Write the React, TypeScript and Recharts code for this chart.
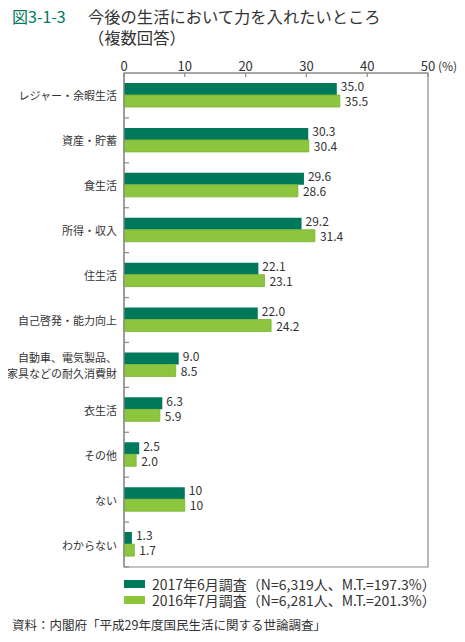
import { BarChart, Bar, XAxis, YAxis, ReferenceArea, LabelList } from "recharts";

const categories = [
  "レジャー・余暇生活",
  "資産・貯蓄",
  "食生活",
  "所得・収入",
  "住生活",
  "自己啓発・能力向上",
  "自動車、電気製品、\n家具などの耐久消費財",
  "衣生活",
  "その他",
  "ない",
  "わからない",
];
const values2017 = [35.0, 30.3, 29.6, 29.2, 22.1, 22.0, 9.0, 6.3, 2.5, 10, 1.3];
const values2016 = [35.5, 30.4, 28.6, 31.4, 23.1, 24.2, 8.5, 5.9, 2.0, 10, 1.7];
const xTicks = [0, 10, 20, 30, 40, 50];

const series2017 = "2017年6月調査（N=6,319人、M.T.=197.3%）";
const series2016 = "2016年7月調査（N=6,281人、M.T.=201.3%）";

const DARK = "#00785c";
const LIGHT = "#8cc63f";
const TEXT = "#333333";
const FRAME = "#8a8a8a";
const FONT = "'Noto Sans CJK JP', 'Noto Sans', sans-serif";

const data = categories.map((name, i) => ({
  name,
  y2017: values2017[i],
  y2016: values2016[i],
}));

const fmt = (v: any) => (v === 10 ? "10" : Number(v).toFixed(1));

function TopTick(props: any) {
  const { x, y, payload } = props;
  return (
    <g>
      <text x={x} y={y} textAnchor="middle" fontSize={13} fill={TEXT} fontFamily={FONT}>
        {payload.value}
      </text>
      {payload.value === 50 && (
        <text x={x + 10} y={y} textAnchor="start" fontSize={12} fill={TEXT} fontFamily={FONT}>
          (%)
        </text>
      )}
    </g>
  );
}

function CatTick(props: any) {
  const { x, y, payload } = props;
  const lines = String(payload.value).split("\n");
  const half = payload.offset ?? 0;
  return (
    <g>
      {lines.map((l, i) => (
        <text
          key={i}
          x={x}
          y={y + (i - (lines.length - 1) / 2) * 16}
          textAnchor="end"
          dominantBaseline="central"
          fontSize={11}
          fill={TEXT}
          fontFamily={FONT}
        >
          {l}
        </text>
      ))}
      <line x1={x + 7} x2={x + 12} y1={y + half} y2={y + half} stroke={FRAME} strokeWidth={1.2} />
    </g>
  );
}

export default function App() {
  return (
    <div
      style={{
        position: "relative",
        margin: -8,
        width: 465,
        height: 642,
        background: "#fff",
        fontFamily: FONT,
        color: TEXT,
      }}
    >
      <div style={{ position: "absolute", left: 12, top: 6, fontSize: 16, color: DARK, lineHeight: "21px" }}>
        図3-1-3
      </div>
      <div style={{ position: "absolute", left: 88, top: 6, fontSize: 16.3, lineHeight: "21px" }}>
        今後の生活において力を入れたいところ
        <br />
        （複数回答）
      </div>

      <div style={{ position: "absolute", left: 0, top: 0 }}>
        <BarChart
          width={465}
          height={642}
          data={data}
          layout="vertical"
          margin={{ top: 0, right: 37, bottom: 75, left: 0 }}
          barCategoryGap={10}
          barGap={0}
        >
          <XAxis
            type="number"
            orientation="top"
            domain={[0, 50]}
            ticks={xTicks}
            height={73}
            tickSize={-4}
            tickMargin={6}
            axisLine={{ stroke: FRAME, strokeWidth: 1.2 }}
            tickLine={{ stroke: FRAME, strokeWidth: 1.2 }}
            tick={<TopTick />}
          />
          <YAxis
            type="category"
            dataKey="name"
            width={124}
            interval={0}
            tickSize={0}
            tickMargin={7}
            tickLine={false}
            axisLine={{ stroke: FRAME, strokeWidth: 1.2 }}
            tick={<CatTick />}
          />
          <ReferenceArea x1={0} x2={50} fill="none" stroke={FRAME} strokeWidth={1.2} fillOpacity={0} />
          <Bar dataKey="y2017" name={series2017} fill={DARK} isAnimationActive={false}>
            <LabelList dataKey="y2017" position="right" offset={4} dy={-2} formatter={fmt} fontSize={12} fill={TEXT} fontFamily={FONT} />
          </Bar>
          <Bar dataKey="y2016" name={series2016} fill={LIGHT} stroke="#79b232" strokeWidth={0.8} isAnimationActive={false}>
            <LabelList dataKey="y2016" position="right" offset={5} dy={1} formatter={fmt} fontSize={12} fill={TEXT} fontFamily={FONT} />
          </Bar>
        </BarChart>
      </div>

      {[
        { label: series2017, color: DARK, top: 576 },
        { label: series2016, color: LIGHT, top: 592 },
      ].map((s) => (
        <div key={s.label} style={{ position: "absolute", left: 124, top: s.top, height: 16, display: "flex", alignItems: "center" }}>
          <span style={{ width: 21, height: 8, background: s.color, display: "inline-block", marginRight: 7 }} />
          <span style={{ fontSize: 14, lineHeight: "16px", whiteSpace: "nowrap" }}>{s.label}</span>
        </div>
      ))}

      <div style={{ position: "absolute", left: 12, top: 615, fontSize: 12.5, whiteSpace: "nowrap" }}>
        資料：内閣府「平成29年度国民生活に関する世論調査」
      </div>
    </div>
  );
}
